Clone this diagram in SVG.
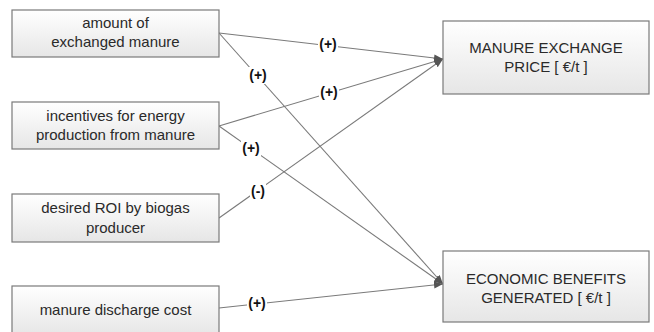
<svg xmlns="http://www.w3.org/2000/svg" width="654" height="332" viewBox="0 0 654 332">
<defs>
<linearGradient id="g" x1="0" y1="0" x2="0" y2="1">
<stop offset="0" stop-color="#ffffff"/>
<stop offset="1" stop-color="#e6e6e6"/>
</linearGradient>
<marker id="arr" viewBox="0 0 10 10" refX="10" refY="5" markerWidth="9" markerHeight="9" markerUnits="userSpaceOnUse" orient="auto">
<path d="M0,1 L10,5 L0,9 Z" fill="#555"/>
</marker>
<style>
.box{fill:url(#g);stroke:#7a7a7a;stroke-width:1.2}
.t{font-family:"Liberation Sans",Arial,sans-serif;font-size:15px;fill:#2a2a2a;text-anchor:middle}
.e{fill:none;stroke:#7a7a7a;stroke-width:1.1;marker-end:url(#arr)}
.lb{font-family:"Liberation Sans",Arial,sans-serif;font-size:14px;font-weight:bold;fill:#111;text-anchor:middle}
.bg{fill:#ffffff}
</style>
</defs>
<rect width="654" height="332" fill="#ffffff"/>
<g id="connectors">
<line class="e" x1="219" y1="33" x2="443" y2="59"/>
<line class="e" x1="219" y1="33" x2="443" y2="284"/>
<line class="e" x1="219" y1="126" x2="443" y2="59"/>
<line class="e" x1="219" y1="126" x2="443" y2="284"/>
<line class="e" x1="219" y1="218" x2="443" y2="59"/>
<line class="e" x1="219" y1="308" x2="443" y2="284"/>
<g id="labels">
<rect class="bg" x="318" y="35" width="20" height="17"/>
<text class="lb" x="328" y="49">(+)</text>
<rect class="bg" x="248" y="67" width="20" height="17"/>
<text class="lb" x="258" y="80">(+)</text>
<rect class="bg" x="319" y="84" width="20" height="17"/>
<text class="lb" x="329" y="97">(+)</text>
<rect class="bg" x="241" y="140" width="20" height="17"/>
<text class="lb" x="251" y="153">(+)</text>
<rect class="bg" x="250" y="183" width="16" height="17"/>
<text class="lb" x="258" y="196">(-)</text>
<rect class="bg" x="247" y="295" width="20" height="17"/>
<text class="lb" x="257" y="308">(+)</text>
</g>
</g>
<g id="n1">
<rect class="box" x="12" y="10" width="207" height="47"/>
<text class="t" x="115.5" y="28">amount of</text>
<text class="t" x="115.5" y="47">exchanged manure</text>
</g>
<g id="n2">
<rect class="box" x="12" y="102" width="207" height="47"/>
<text class="t" x="115.5" y="121">incentives for energy</text>
<text class="t" x="115.5" y="140">production from manure</text>
</g>
<g id="n3">
<rect class="box" x="12" y="194" width="207" height="48"/>
<text class="t" x="115.5" y="213">desired ROI by biogas</text>
<text class="t" x="115.5" y="233">producer</text>
</g>
<g id="n4">
<rect class="box" x="12" y="286" width="207" height="50"/>
<text class="t" x="115.5" y="315">manure discharge cost</text>
</g>
<g id="n5">
<rect class="box" x="443" y="21" width="206" height="73"/>
<text class="t" x="546" y="53">MANURE EXCHANGE</text>
<text class="t" x="546" y="72">PRICE [ €/t ]</text>
</g>
<g id="n6">
<rect class="box" x="443" y="251" width="206" height="71"/>
<text class="t" x="546" y="284">ECONOMIC BENEFITS</text>
<text class="t" x="546" y="303">GENERATED [ €/t ]</text>
</g>
</svg>
